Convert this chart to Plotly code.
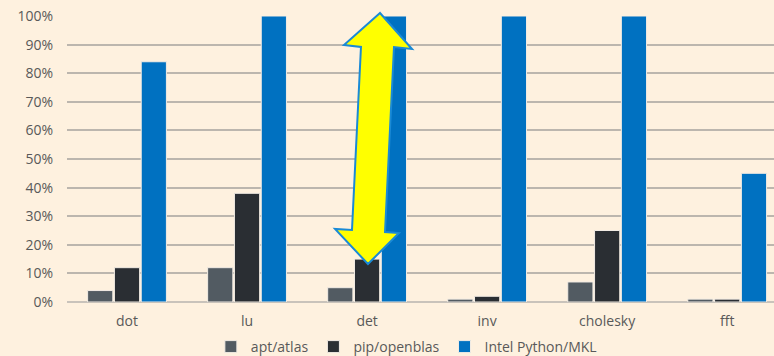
import plotly.graph_objects as go

# Benchmark categories and relative performance (% of best)
categories = ["dot", "lu", "det", "inv", "cholesky", "fft"]
apt_atlas = [4, 12, 5, 1, 7, 1]
pip_openblas = [12, 38, 15, 2, 25, 1]
intel_mkl = [84, 100, 100, 100, 100, 45]
y_ticks = [0, 10, 20, 30, 40, 50, 60, 70, 80, 90, 100]

W, H = 774, 356
L, R, T, B = 67, 0, 16, 54

fig = go.Figure()
series = [
    ("apt/atlas", apt_atlas, "#525b62"),
    ("pip/openblas", pip_openblas, "#2a2e33"),
    ("Intel Python/MKL", intel_mkl, "#0071c1"),
]
for name, vals, col in series:
    fig.add_trace(go.Bar(
        x=categories, y=vals, name=name,
        marker=dict(color=col, line=dict(color="#f2ece4", width=1)),
    ))

# Highlight arrow between pip/openblas and Intel on "det" (pixel outline -> paper coords)
arrow_px = [(380, 13), (344, 45), (361, 47), (352, 230), (335, 229), (368, 264),
            (399, 233), (385, 232), (394, 47), (412, 49)]
pw, ph = W - L - R, H - T - B
pts = [((x - L) / pw, (H - B - y) / ph) for x, y in arrow_px]
path = "M " + " L ".join(f"{x:.4f},{y:.4f}" for x, y in pts) + " Z"
fig.add_shape(type="path", path=path, xref="paper", yref="paper",
              fillcolor="#ffff00", line=dict(color="#1a8ad6", width=2), layer="above")

fig.update_layout(
    width=W, height=H,
    margin=dict(l=L, r=R, t=T, b=B, autoexpand=False),
    paper_bgcolor="#fef1df", plot_bgcolor="#fef1df",
    barmode="group", bargap=0.33, bargroupgap=0.06,
    font=dict(family="Open Sans", size=13, color="#595959"),
    showlegend=True,
    legend=dict(orientation="h", xref="paper", x=0.48, xanchor="center",
                yref="paper", y=(302 - 347) / 286, yanchor="middle",
                font=dict(size=14, color="#595959"), itemwidth=30,
                traceorder="normal", bgcolor="rgba(0,0,0,0)"),
)
fig.update_xaxes(range=[-0.5, 5.39], showgrid=False, showline=False, ticks="",
                 ticklabelstandoff=9, automargin=False,
                 tickfont=dict(size=14, color="#595959"))
fig.update_yaxes(range=[0, 100], tickvals=y_ticks,
                 ticktext=[f"{v}%" for v in y_ticks], automargin=False,
                 showgrid=True, gridcolor="#bcb6ae", gridwidth=1.5,
                 zeroline=True, zerolinecolor="#c9c3bb", zerolinewidth=2,
                 ticklabelstandoff=13, tickfont=dict(size=14, color="#595959"))

fig.write_html("out.html")
